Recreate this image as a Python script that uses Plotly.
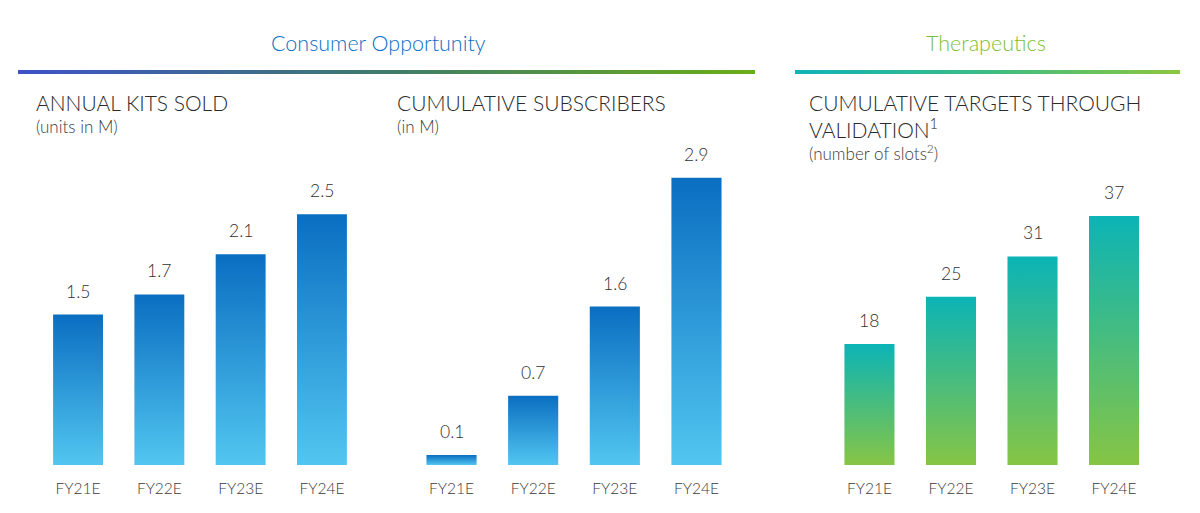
import plotly.graph_objects as go

# ---------------- data ----------------
categories = ["FY21E", "FY22E", "FY23E", "FY24E"]
kits_sold = [1.5, 1.7, 2.1, 2.5]          # annual kits sold, units in M
subscribers = [0.1, 0.7, 1.6, 2.9]        # cumulative subscribers, in M
targets = [18, 25, 31, 37]                # cumulative targets through validation

W, H = 1200, 513
FONT = "Lato"
WEIGHT = 300


def px_x(p):
    return p / W


def px_y(p):
    return 1 - p / H


panels = [
    dict(values=kits_sold, xdom=(37.4, 362.6), ymax=2.99,
         light="#52c6f0", dark="#0a6ec1"),
    dict(values=subscribers, xdom=(410.7, 737.3), ymax=3.03,
         light="#52c6f0", dark="#0a6ec1"),
    dict(values=targets, xdom=(828.7, 1154.8), ymax=44.6,
         light="#86c545", dark="#0bb4b6"),
]

bar_half = 0.307
fig = go.Figure()
layout_axes = {}
annotations = []

for k, p in enumerate(panels, start=1):
    xa = "x" if k == 1 else f"x{k}"
    ya = "y" if k == 1 else f"y{k}"
    for i, v in enumerate(p["values"]):
        fig.add_trace(go.Scatter(
            x=[i - bar_half, i + bar_half, i + bar_half, i - bar_half, i - bar_half],
            y=[0, 0, v, v, 0],
            mode="lines", fill="toself",
            line=dict(width=0, color="rgba(0,0,0,0)"),
            fillcolor=p["dark"],
            fillgradient=dict(type="vertical",
                              colorscale=[[0, p["light"]], [1, p["dark"]]]),
            hoverinfo="skip", showlegend=False,
            xaxis=xa, yaxis=ya,
        ))
        annotations.append(dict(
            x=i, y=v, xref=xa, yref=ya, text=f"{v:g}", showarrow=False,
            xanchor="center", yanchor="bottom", yshift=11,
            font=dict(family=FONT, size=17.5, color="#2f2f2f", weight=WEIGHT),
        ))
    xkey = "xaxis" if k == 1 else f"xaxis{k}"
    ykey = "yaxis" if k == 1 else f"yaxis{k}"
    layout_axes[xkey] = dict(
        domain=[px_x(p["xdom"][0]), px_x(p["xdom"][1])],
        range=[-0.5, 3.5], tickvals=[0, 1, 2, 3], ticktext=categories,
        showgrid=False, zeroline=False, showline=False,
        ticks="outside", ticklen=9, tickcolor="rgba(0,0,0,0)",
        tickfont=dict(family=FONT, size=15.5, color="#3a3a3a", weight=WEIGHT),
        anchor=ya, fixedrange=True,
    )
    layout_axes[ykey] = dict(
        domain=[px_y(465), px_y(165)], range=[0, p["ymax"]],
        visible=False, anchor=xa, fixedrange=True,
    )

# decorative overlay axes in pixel units for the section rules
layout_axes["xaxis4"] = dict(domain=[0, 1], range=[0, W], visible=False,
                             anchor="y4", fixedrange=True)
layout_axes["yaxis4"] = dict(domain=[0, 1], range=[H, 0], visible=False,
                             anchor="x4", fixedrange=True)

rules = [
    (18, 755, [[0, "#3d52c8"], [0.5, "#3e7b6c"], [1, "#6aae16"]]),
    (795, 1180, [[0, "#10b3b9"], [0.5, "#3cbc84"], [1, "#8cc63f"]]),
]
for x0, x1, cs in rules:
    fig.add_trace(go.Scatter(
        x=[x0, x1, x1, x0, x0], y=[70, 70, 74, 74, 70],
        mode="lines", fill="toself",
        line=dict(width=0, color="rgba(0,0,0,0)"),
        fillgradient=dict(type="horizontal", colorscale=cs),
        hoverinfo="skip", showlegend=False, xaxis="x4", yaxis="y4",
    ))

# section headers
annotations.append(dict(x=px_x(378), y=px_y(43), xref="paper", yref="paper",
                        text="Consumer Opportunity", showarrow=False,
                        xanchor="center", yanchor="middle",
                        font=dict(family=FONT, size=21.5, color="#0a70c4",
                                  weight=WEIGHT)))
annotations.append(dict(x=px_x(986), y=px_y(43), xref="paper", yref="paper",
                        text="Therapeutics", showarrow=False,
                        xanchor="center", yanchor="middle",
                        font=dict(family=FONT, size=21.5, color="#7cc030",
                                  weight=WEIGHT)))

# panel titles
titles = [
    (34, 103, "ANNUAL KITS SOLD", 21, "#2a2a2a"),
    (34, 127, "(units in M)", 17, "#3a3a3a"),
    (395, 103, "CUMULATIVE SUBSCRIBERS", 21, "#2a2a2a"),
    (395, 127, "(in M)", 17, "#3a3a3a"),
    (807, 103, "CUMULATIVE TARGETS THROUGH", 21, "#2a2a2a"),
    (807, 128, "VALIDATION<sup>1</sup>", 21, "#2a2a2a"),
    (807, 152, "(number of slots<sup>2</sup>)", 17, "#3a3a3a"),
]
for x, y, t, s, c in titles:
    annotations.append(dict(x=px_x(x), y=px_y(y), xref="paper", yref="paper",
                            text=t, showarrow=False, xanchor="left",
                            yanchor="middle",
                            font=dict(family=FONT, size=s, color=c,
                                      weight=WEIGHT)))

fig.update_layout(
    width=W, height=H,
    margin=dict(l=0, r=0, t=0, b=0),
    paper_bgcolor="white", plot_bgcolor="rgba(0,0,0,0)",
    showlegend=False,
    annotations=annotations,
    **layout_axes,
)

fig.write_html("out.html", config={"displayModeBar": False},
               post_script="document.body.style.margin='0px';")
